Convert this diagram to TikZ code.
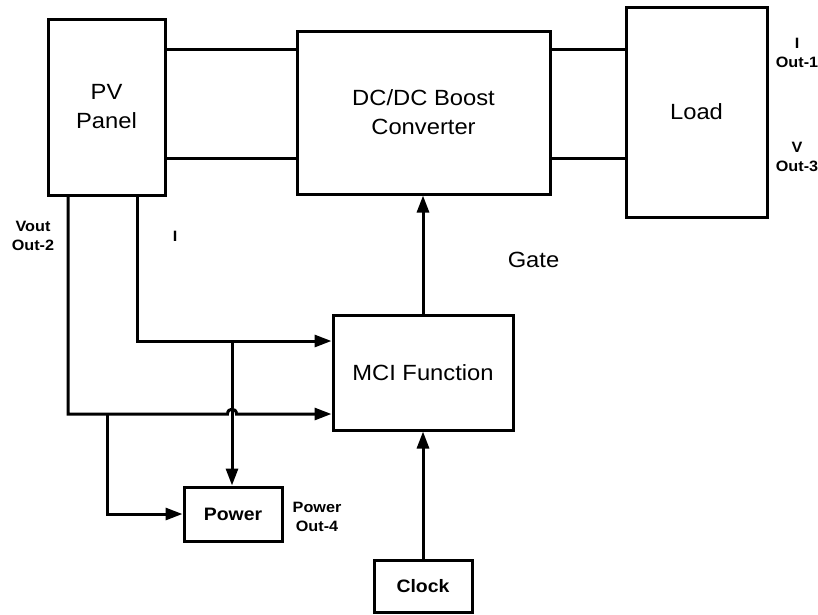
\documentclass[tikz,border=0pt]{standalone}
\usepackage{fontspec}
\usepackage{graphicx}
\setmainfont{Liberation Sans}
\usetikzlibrary{arrows.meta}
\newcommand\hs[1]{\scalebox{1.08}[1]{#1}}
\begin{document}
\begin{tikzpicture}[x=1pt,y=-1pt,
  box/.style={draw, line width=3pt, inner sep=0pt, align=center},
  big/.style={font=\fontsize{22}{29}\selectfont},
  bbold/.style={font=\fontsize{18}{22}\selectfont\bfseries},
  lbl/.style={font=\fontsize{15}{19}\selectfont\bfseries, align=center, inner sep=0pt},
  wire/.style={line width=3pt},
  arr/.style={line width=3pt, -{Triangle[length=17pt,width=12pt]}}]
\useasboundingbox (0,0) rectangle (818,614);
% boxes
\node[box,big,minimum width=117pt,minimum height=176pt] (pv) at (106.5,107) {\hs{PV}\\\hs{Panel}};
\node[box,big,minimum width=253pt,minimum height=163pt] (conv) at (423.5,112.5) {\hs{DC/DC Boost}\\\hs{Converter}};
\node[box,big,minimum width=141pt,minimum height=210pt] (load) at (696.5,112) {\hs{Load}};
\node[box,big,minimum width=180pt,minimum height=115pt] (mci) at (423,372.5) {\hs{MCI Function}};
\node[box,bbold,minimum width=98pt,minimum height=54pt] (power) at (233,514) {\hs{Power}};
\node[box,bbold,minimum width=98pt,minimum height=52pt] (clock) at (423,586) {\hs{Clock}};
% labels
\node[lbl] (l1) at (797,53) {\hs{I}\\\hs{Out-1}};
\node[lbl] (l3) at (797,157) {\hs{V}\\\hs{Out-3}};
\node[lbl] (l2) at (33,236) {\hs{Vout}\\\hs{Out-2}};
\node[lbl] (li) at (175,236) {\hs{I}};
\node[lbl] (l4) at (317,517) {\hs{Power}\\\hs{Out-4}};
\node[big,inner sep=0pt] (gate) at (533.5,260) {\hs{Gate}};
% power lines
\draw[wire] (pv.east |- 0,49) -- (conv.west |- 0,49);
\draw[wire] (pv.east |- 0,158) -- (conv.west |- 0,158);
\draw[wire] (conv.east |- 0,49) -- (load.west |- 0,49);
\draw[wire] (conv.east |- 0,158) -- (load.west |- 0,158);
% measurement lines
\coordinate (vout) at (68,195);
\coordinate (iout) at (137,195);
\coordinate (j1) at (232,341);
\coordinate (j2) at (107,414);
\draw[arr] (iout) -- (137,341) -- (mci.west |- 0,341);
\draw[arr] (vout) -- (68,414) -- (227.5,414) .. controls (227.5,407.5) and (236.5,407.5) .. (236.5,414) -- (mci.west |- 0,414);
\draw[arr] (j1) -- (j1 |- power.north);
\draw[arr] (j2) -- (107,514) -- (power.west);
\draw[arr] (mci.north) -- (mci.north |- conv.south);
\draw[arr] (clock.north) -- (clock.north |- mci.south);
\end{tikzpicture}
\end{document}
